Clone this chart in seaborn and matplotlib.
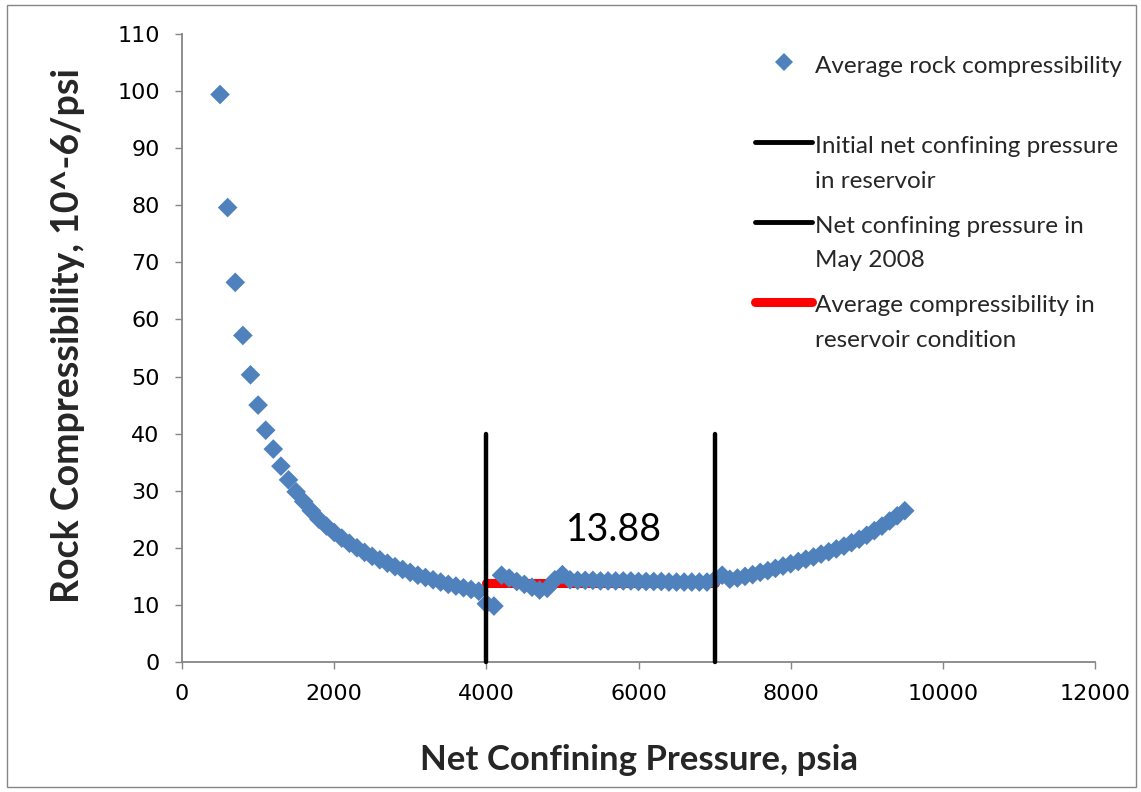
import matplotlib
matplotlib.use("Agg")
import matplotlib.pyplot as plt
from matplotlib.lines import Line2D
from matplotlib.patches import Rectangle
from matplotlib.transforms import Affine2D
from matplotlib.legend_handler import HandlerLine2D
import pandas as pd
import seaborn as sns

# Net confining pressure (psia) and measured average rock compressibility (10^-6/psi)
pressure = [
    500, 600, 700, 800, 900, 1000, 1100, 1200, 1300, 1400,
    1500, 1600, 1700, 1800, 1900, 2000, 2100, 2200, 2300, 2400,
    2500, 2600, 2700, 2800, 2900, 3000, 3100, 3200, 3300, 3400,
    3500, 3600, 3700, 3800, 3900, 4000, 4100, 4200, 4300, 4400,
    4500, 4600, 4700, 4800, 4900, 5000, 5100, 5200, 5300, 5400,
    5500, 5600, 5700, 5800, 5900, 6000, 6100, 6200, 6300, 6400,
    6500, 6600, 6700, 6800, 6900, 7000, 7100, 7200, 7300, 7400,
    7500, 7600, 7700, 7800, 7900, 8000, 8100, 8200, 8300, 8400,
    8500, 8600, 8700, 8800, 8900, 9000, 9100, 9200, 9300, 9400,
    9500,
]
compressibility = [
    99.4, 79.6, 66.5, 57.2, 50.3, 45.0, 40.6, 37.3, 34.3, 31.9,
    29.8, 28.1, 26.5, 25.0, 23.8, 22.7, 21.7, 20.8, 20.0, 19.2,
    18.5, 17.9, 17.3, 16.7, 16.2, 15.7, 15.2, 14.8, 14.4, 14.0,
    13.6, 13.3, 13.0, 12.7, 12.4, 10.2, 9.8, 15.2, 14.7, 14.1,
    13.6, 13.1, 12.6, 12.9, 14.4, 15.3, 14.4, 14.3, 14.3, 14.3,
    14.2, 14.2, 14.2, 14.2, 14.2, 14.1, 14.1, 14.1, 14.1, 14.0,
    14.0, 14.0, 14.0, 14.0, 14.0, 14.4, 15.2, 14.5, 14.7, 15.0,
    15.3, 15.7, 16.0, 16.4, 16.8, 17.2, 17.6, 18.0, 18.4, 18.9,
    19.3, 19.8, 20.3, 20.9, 21.5, 22.2, 23.0, 23.8, 24.7, 25.6,
    26.5,
]

initial_pressure = 4000        # initial net confining pressure in reservoir
may2008_pressure = 7000        # net confining pressure in May 2008
marker_line_top = 40           # height of the pressure marker lines
avg_reservoir_compressibility = 13.88

x_ticks = [0, 2000, 4000, 6000, 8000, 10000, 12000]
y_ticks = [0, 10, 20, 30, 40, 50, 60, 70, 80, 90, 100, 110]

legend_labels = [
    "Average rock compressibility",
    "Initial net confining pressure\nin reservoir",
    "Net confining pressure in\nMay 2008",
    "Average compressibility in\nreservoir condition",
]

BLUE = "#4F81BD"
GRAY = "#868686"

sns.set_style("white")
plt.rcParams["font.family"] = ["DejaVu Sans"]

df = pd.DataFrame({"pressure": pressure, "compressibility": compressibility})

fig = plt.figure(figsize=(11.41, 7.92), dpi=100)
ax = fig.add_axes([182 / 1141, 1 - 662 / 792, (1095 - 182) / 1141, (662 - 34) / 792])

# Average compressibility over the reservoir pressure window (behind the points)
ax.plot([initial_pressure, may2008_pressure],
        [avg_reservoir_compressibility, avg_reservoir_compressibility],
        color="red", lw=6.5, solid_capstyle="round", zorder=2)

sns.scatterplot(data=df, x="pressure", y="compressibility", marker="D",
                s=100, color=BLUE, edgecolor="none", linewidth=0,
                ax=ax, zorder=3, legend=False)

for p in (initial_pressure, may2008_pressure):
    ax.plot([p, p], [0, marker_line_top], color="black", lw=3.2,
            solid_capstyle="round", zorder=4, clip_on=False)

ax.text(5680, 23.1, f"{avg_reservoir_compressibility:.2f}",
        ha="center", va="center", fontsize=27, family="Lato", color="black")

ax.set_xlim(0, 12000)
ax.set_ylim(0, 110)
ax.set_xticks(x_ticks)
ax.set_yticks(y_ticks)
ax.set_xticklabels([str(t) for t in x_ticks])
ax.set_yticklabels([str(t) for t in y_ticks])
ax.tick_params(axis="both", direction="out", length=5, width=1, color=GRAY,
               labelsize=16, pad=11, labelcolor="black")
ax.tick_params(axis="x", bottom=True)
ax.tick_params(axis="y", left=True)
for side in ("top", "right"):
    ax.spines[side].set_visible(False)
for side in ("left", "bottom"):
    ax.spines[side].set_color(GRAY)
    ax.spines[side].set_linewidth(1.3)

ax.set_xlabel("Net Confining Pressure, psia", fontsize=25, fontweight="bold",
              family="Lato", va="center")
ax.set_ylabel("Rock Compressibility, 10^-6/psi", fontsize=27, fontweight="bold",
              family="Lato", va="center")
ax.xaxis.set_label_coords(0.5, (662 - 760) / 628)
ax.yaxis.set_label_coords((68 - 182) / 913, (662 - 336) / 628)


class FirstLineHandler(HandlerLine2D):
    """Line handler that lifts the key up to the first line of a two-line label."""

    def __init__(self, rise, **kw):
        super().__init__(**kw)
        self.rise = rise

    def create_artists(self, legend, orig_handle, xdescent, ydescent, width,
                       height, fontsize, trans):
        arts = super().create_artists(legend, orig_handle, xdescent, ydescent,
                                      width, height, fontsize, trans)
        for a in arts:
            a.set_transform(Affine2D().translate(0, self.rise) + trans)
        return arts


handles = [
    Line2D([], [], marker="D", markersize=9, color=BLUE, linestyle="none",
           markeredgewidth=0),
    Line2D([], [], color="black", lw=3.5, solid_capstyle="round"),
    Line2D([], [], color="black", lw=3.5, solid_capstyle="round"),
    Line2D([], [], color="red", lw=6.5, solid_capstyle="round"),
]
labels = [legend_labels[0] + "\n"] + legend_labels[1:]
rise = 15.5
leg = fig.legend(handles, labels, loc="upper left",
                 bbox_to_anchor=(755 / 1141, 1 - 56 / 792),
                 frameon=False, borderpad=0, borderaxespad=0,
                 handlelength=2.35, handletextpad=0.12, labelspacing=0.98,
                 prop={"family": "Lato", "size": 17.5},
                 handler_map={h: FirstLineHandler(rise) for h in handles})
for t in leg.get_texts():
    t.set_linespacing(1.82)

fig.patches.append(Rectangle((7 / 1141, 5 / 792), 1129 / 1141, 782 / 792,
                             transform=fig.transFigure, fill=False,
                             edgecolor=GRAY, lw=1))

fig.savefig("out.png", dpi=100, facecolor="white")
